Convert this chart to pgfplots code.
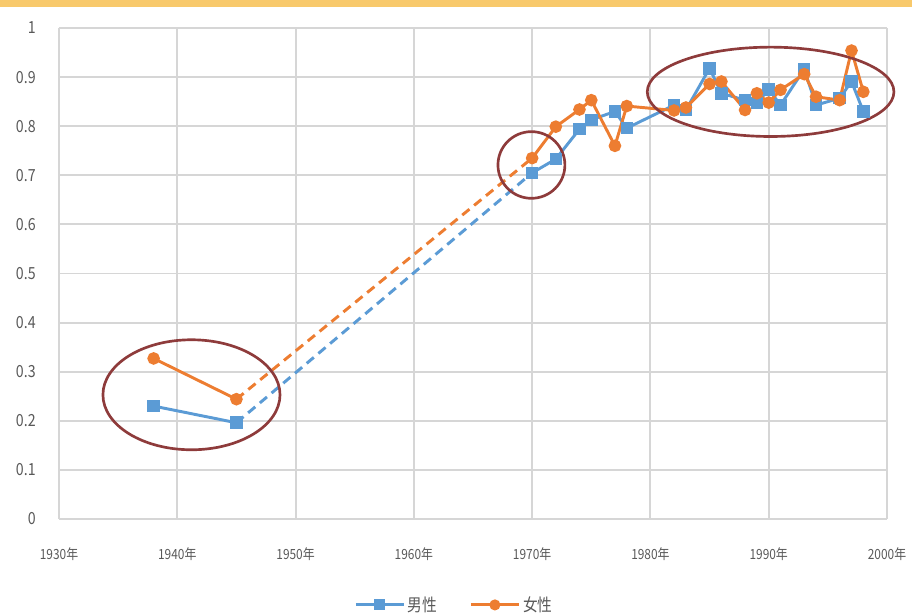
\documentclass[border=0pt]{standalone}
\usepackage{fontspec}
\setmainfont{Noto Sans CJK SC}[FakeStretch=0.85]
\usepackage{pgfplots}
\pgfplotsset{compat=1.18}
\definecolor{male}{HTML}{5B9BD5}
\definecolor{female}{HTML}{ED7D31}
\definecolor{ring}{HTML}{8E3B3B}
\definecolor{band}{HTML}{F8C96B}
\definecolor{txt}{HTML}{595959}
\definecolor{gridc}{HTML}{D6D6D6}
\begin{document}
\begin{tikzpicture}
\path[use as bounding box] (0,0) rectangle (684pt,462pt);
\fill[band] (0,456.75pt) rectangle (684pt,462pt);
\begin{axis}[
  at={(44.25pt,72.75pt)}, anchor=south west,
  scale only axis, width=621pt, height=368.25pt,
  xmin=1930, xmax=2000, ymin=0, ymax=1,
  xtick={1930,1940,1950,1960,1970,1980,1990,2000},
  xticklabels={1930年,1940年,1950年,1960年,1970年,1980年,1990年,2000年},
  ytick={0,0.1,0.2,0.3,0.4,0.5,0.6,0.7,0.8,0.9,1},
  yticklabels={0,0.1,0.2,0.3,0.4,0.5,0.6,0.7,0.8,0.9,1},
  xticklabel style={font=\fontsize{10.5}{12}\selectfont, text=txt, yshift=-18pt},
  yticklabel style={font=\fontsize{12.5}{14}\selectfont, text=txt, xshift=-14pt},
  major tick length=0pt,
  axis line style={draw=none},
  grid=major, grid style={gridc, line width=1.4pt},
  clip=false,
  legend columns=2,
  legend style={at={(0.478,-0.175)}, anchor=center, draw=none, fill=none,
    font=\fontsize{13}{15}\selectfont, text=txt,
    /tikz/every even column/.append style={column sep=22pt}},
  legend image code/.code={\draw[mark repeat=2, mark phase=2, #1, mark size=3pt]
    plot coordinates {(0pt,0pt) (18pt,0pt) (36pt,0pt)};},
]
% dashed links
\addplot[male, line width=2.2pt, dash pattern=on 7pt off 4.5pt, forget plot] coordinates {(1945,0.196)(1970,0.705)};
\addplot[female, line width=2.2pt, dash pattern=on 7pt off 4.5pt, forget plot] coordinates {(1945,0.244)(1970,0.735)};
% male
\addplot[male, line width=2.2pt, mark=square*, mark size=3.6pt, forget plot] coordinates {(1938,0.230)(1945,0.196)};
\addplot[male, line width=2.2pt, mark=square*, mark size=3.6pt] coordinates {
  (1970,0.705)(1972,0.733)(1974,0.794)(1975,0.813)(1977,0.830)(1978,0.796)
  (1982,0.843)(1983,0.833)(1985,0.918)(1986,0.867)(1988,0.853)(1989,0.847)
  (1990,0.875)(1991,0.843)(1993,0.916)(1994,0.843)(1996,0.857)(1997,0.891)(1998,0.830)
};
\addlegendentry{男性}
% female
\addplot[female, line width=2.2pt, mark=*, mark size=3.6pt, forget plot] coordinates {(1938,0.327)(1945,0.244)};
\addplot[female, line width=2.2pt, mark=*, mark size=3.6pt] coordinates {
  (1970,0.735)(1972,0.799)(1974,0.834)(1975,0.853)(1977,0.760)(1978,0.841)
  (1982,0.832)(1983,0.838)(1985,0.886)(1986,0.891)(1988,0.833)(1989,0.867)
  (1990,0.848)(1991,0.874)(1993,0.906)(1994,0.860)(1996,0.853)(1997,0.954)(1998,0.870)
};
\addlegendentry{女性}
% highlight rings
\draw[ring, line width=2pt] (axis cs:1941.2,0.253) ellipse [x radius=66.4pt, y radius=41.25pt];
\draw[ring, line width=2pt] (axis cs:1969.94,0.721) ellipse [x radius=25.1pt, y radius=25pt];
\draw[ring, line width=2pt] (axis cs:1990.16,0.870) ellipse [x radius=92.5pt, y radius=33.5pt];
\end{axis}
\end{tikzpicture}
\end{document}
